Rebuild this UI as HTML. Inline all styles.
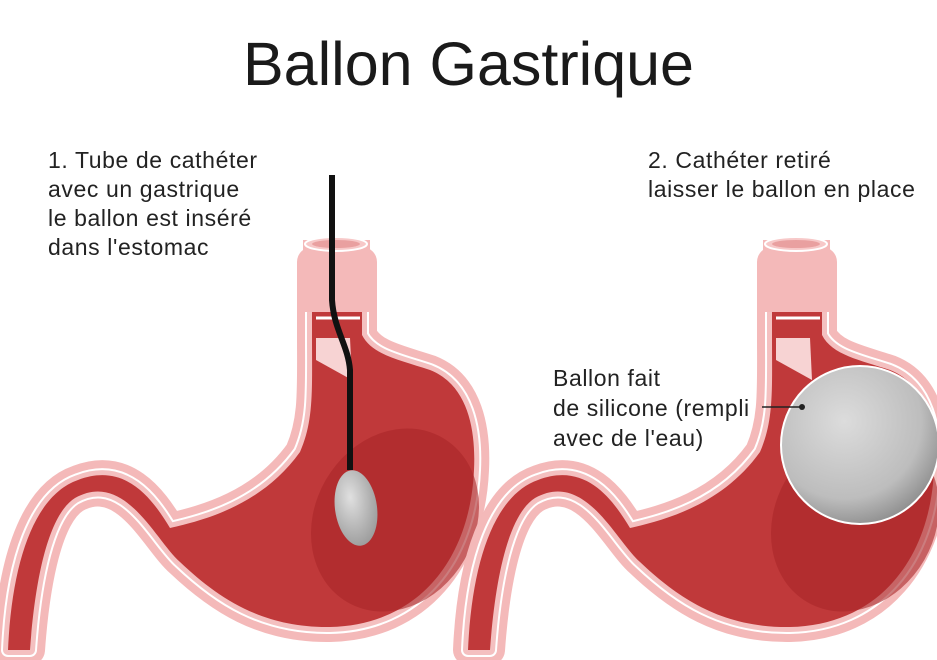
<!DOCTYPE html>
<html><head><meta charset="utf-8"><style>
html,body{margin:0;padding:0;background:#fff;}
body{width:937px;height:660px;overflow:hidden;position:relative;font-family:"Liberation Sans",sans-serif;color:#222;}
.t{position:absolute;font-size:23px;line-height:29px;letter-spacing:0.6px;white-space:nowrap;}
</style></head><body>
<svg width="937" height="660" style="position:absolute;left:0;top:0">
<defs>
<radialGradient id="bg" cx="0.4" cy="0.35" r="0.7">
<stop offset="0" stop-color="#dcdcdc"/><stop offset="0.7" stop-color="#bdbdbd"/><stop offset="1" stop-color="#8a8a8a"/></radialGradient>
<radialGradient id="sb" cx="0.4" cy="0.35" r="0.7">
<stop offset="0" stop-color="#e0e0e0"/><stop offset="1" stop-color="#9a9a9a"/></radialGradient>
<g id="st">
<path id="p" d="M312,262 L362,262 L362,335 C372,355 400,360 430,370 C468,385 476,430 474,470 C470,560 418,625 330,627 C262,628 218,598 180,562 C155,540 125,470 75,498 C48,515 35,580 30,650 L8,650 C12,560 35,495 78,480 C125,462 152,498 170,528 C205,520 262,505 300,452 C314,420 312,390 312,335 Z"/>
</g>
</defs>
<g id="s1">
<rect x="305" y="242" width="63" height="80" fill="#f4b9b9"/>
<use href="#p" fill="none" stroke="#f4b9b9" stroke-width="30" stroke-linejoin="round"/>
<use href="#p" fill="none" stroke="#fff" stroke-width="14" stroke-linejoin="round"/>
<use href="#p" fill="none" stroke="#f4c0c0" stroke-width="10" stroke-linejoin="round"/>
<use href="#p" fill="#c0393a" stroke="none"/>
<rect x="303" y="240" width="67" height="72" fill="#f4b9b9"/>
<path d="M316,318 L360,318" stroke="#fff" stroke-width="3"/>
<ellipse cx="336" cy="244" rx="31" ry="7" fill="#f7c8c8" stroke="#fff" stroke-width="2"/>
<ellipse cx="336" cy="244" rx="24" ry="4" fill="#e9a0a0"/>
<ellipse cx="395" cy="520" rx="80" ry="95" transform="rotate(30 395 520)" fill="#a82628" opacity="0.6"/>
<path d="M316,338 L350,338 L352,380 L316,360Z" fill="#f7d3d3"/>
</g>
<path d="M332,175 L332,300 C334,330 348,345 350,370 L350,470" stroke="#111" stroke-width="6" fill="none"/>
<ellipse cx="356" cy="508" rx="21" ry="38" fill="url(#sb)" transform="rotate(-8 356 508)"/>
<use href="#s1" transform="translate(460,0)"/>
<circle cx="860" cy="445" r="79" fill="url(#bg)" stroke="#fff" stroke-width="2"/>
<line x1="762" y1="407" x2="800" y2="407" stroke="#222" stroke-width="1.5"/>
<circle cx="802" cy="407" r="3" fill="#222"/>
</svg>
<div style="position:absolute;left:0;width:937px;top:34px;text-align:center;font-size:61px;line-height:61px;color:#1a1a1a;">Ballon Gastrique</div>
<div class="t" style="left:48px;top:146px">1. Tube de cathéter<br>avec un gastrique<br>le ballon est inséré<br>dans l'estomac</div>
<div class="t" style="left:648px;top:146px">2. Cathéter retiré<br>laisser le ballon en place</div>
<div class="t" style="left:553px;top:363px;line-height:30px">Ballon fait<br>de silicone (rempli<br>avec de l'eau)</div>
</body></html>
